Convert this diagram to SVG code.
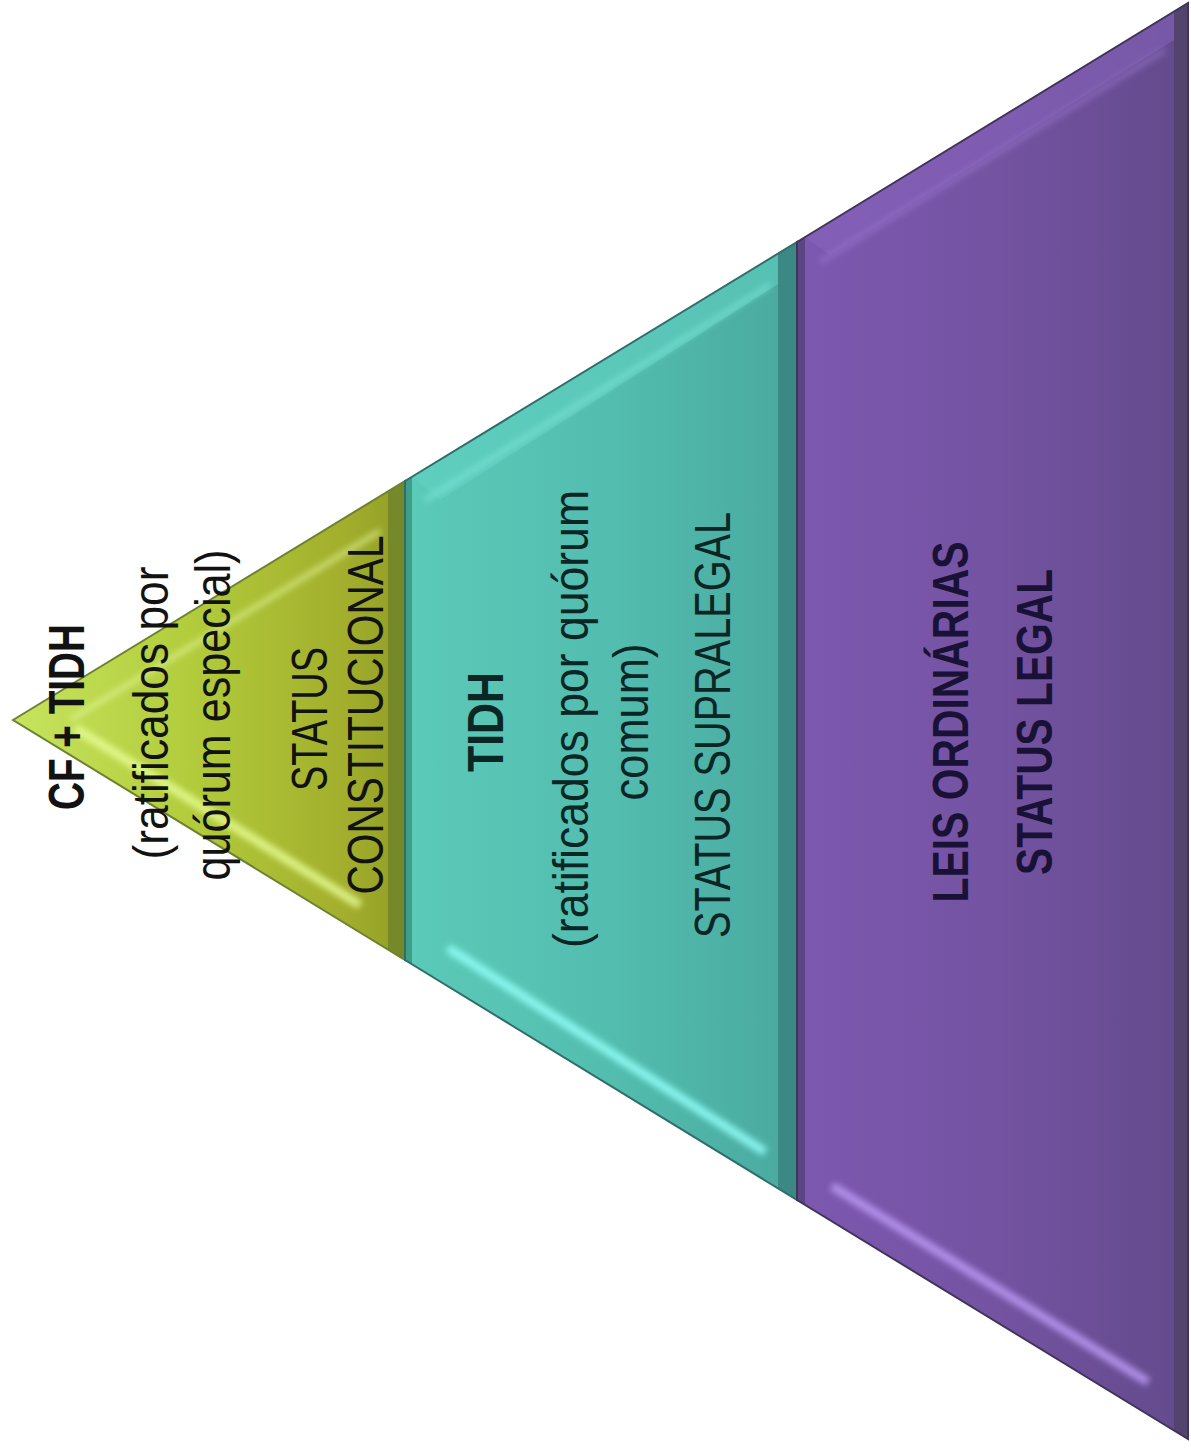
<svg xmlns="http://www.w3.org/2000/svg" width="1191" height="1449" viewBox="0 0 1191 1449">
<defs>
<style>
.t{font-family:"Liberation Sans",Arial,sans-serif;font-size:50px;text-anchor:middle}
.b{font-weight:bold}
.tg{fill:#121212}
.tt{fill:#0c2626}
.tp{fill:#1a1236}
</style>
<linearGradient id="gGreen" gradientUnits="userSpaceOnUse" x1="13" y1="0" x2="405" y2="0">
<stop offset="0" stop-color="#c6e45e"/>
<stop offset="0.45" stop-color="#b2cc3c"/>
<stop offset="0.85" stop-color="#a2ae2c"/>
<stop offset="1" stop-color="#909e26"/>
</linearGradient>
<linearGradient id="gTeal" gradientUnits="userSpaceOnUse" x1="405" y1="0" x2="797" y2="0">
<stop offset="0" stop-color="#5ccab8"/>
<stop offset="0.5" stop-color="#53beb0"/>
<stop offset="1" stop-color="#4aa9a0"/>
</linearGradient>
<linearGradient id="gPurple" gradientUnits="userSpaceOnUse" x1="797" y1="0" x2="1188" y2="0">
<stop offset="0" stop-color="#7d58b0"/>
<stop offset="0.5" stop-color="#7453a2"/>
<stop offset="1" stop-color="#634a8c"/>
</linearGradient>
<filter id="blur" x="-20%" y="-20%" width="140%" height="140%"><feGaussianBlur stdDeviation="3"/></filter>
<filter id="blur2" x="-20%" y="-20%" width="140%" height="140%"><feGaussianBlur stdDeviation="6"/></filter>
</defs>
<rect width="1191" height="1449" fill="#ffffff"/>

<g id="layer-green">
<polygon points="13,720 405,481 405,960" fill="url(#gGreen)"/>
<polygon points="388,491 405,481 405,960 388,950" fill="#75892a"/>
<line x1="70" y1="720" x2="380" y2="531" stroke="#e2f59a" stroke-width="5" opacity="0.7" filter="url(#blur)"/>
<line x1="75" y1="728" x2="360" y2="905" stroke="#eaff9a" stroke-width="9" opacity="0.8" filter="url(#blur)"/>
<polygon points="13,720 405,481 405,960" fill="none" stroke="#6f8030" stroke-width="2"/>
<text class="t b tg" transform="translate(84,717) rotate(-90)" textLength="186" lengthAdjust="spacingAndGlyphs">CF + TIDH</text>
<text class="t tg" transform="translate(168,713) rotate(-90)" textLength="293" lengthAdjust="spacingAndGlyphs">(ratificados por</text>
<text class="t tg" transform="translate(230,715) rotate(-90)" textLength="331" lengthAdjust="spacingAndGlyphs">quórum especial)</text>
<text class="t tg" transform="translate(327,719) rotate(-90)" textLength="144" lengthAdjust="spacingAndGlyphs">STATUS</text>
<text class="t tg" transform="translate(383,715) rotate(-90)" textLength="359" lengthAdjust="spacingAndGlyphs">CONSTITUCIONAL</text>
</g>

<g id="layer-teal">
<polygon points="405,481 797,242 797,1200 405,960" fill="url(#gTeal)"/>
<polygon points="405,481 412,477 412,964 405,960" fill="#3f9e88"/>
<polygon points="778,254 797,242 797,1200 778,1188" fill="#3c8884"/>
<polygon points="412,477 778,254 778,284 440,500" fill="#62d2c2" opacity="0.55"/>
<line x1="425" y1="500" x2="770" y2="285" stroke="#86ece0" stroke-width="5" opacity="0.6" filter="url(#blur)"/>
<line x1="448" y1="948" x2="765" y2="1152" stroke="#8ffcf4" stroke-width="9" opacity="0.9" filter="url(#blur)"/>
<polygon points="405,481 797,242 797,1200 405,960" fill="none" stroke="#2f6e6a" stroke-width="2"/>
<text class="t b tt" transform="translate(503,722) rotate(-90)" textLength="100" lengthAdjust="spacingAndGlyphs">TIDH</text>
<text class="t tt" transform="translate(588,719) rotate(-90)" textLength="458" lengthAdjust="spacingAndGlyphs">(ratificados por quórum</text>
<text class="t tt" transform="translate(648,722) rotate(-90)" textLength="157" lengthAdjust="spacingAndGlyphs">comum)</text>
<text class="t tt" transform="translate(730,725) rotate(-90)" textLength="426" lengthAdjust="spacingAndGlyphs">STATUS SUPRALEGAL</text>
</g>

<g id="layer-purple">
<polygon points="797,242 1188,3 1188,1439 797,1200" fill="url(#gPurple)"/>
<polygon points="797,242 805,237 805,1205 797,1200" fill="#5a4682"/>
<polygon points="1174,12 1188,3 1188,1439 1174,1430" fill="#52446c"/>
<polygon points="805,237 1174,12 1174,40 830,255" fill="#8a66c0" opacity="0.5"/>
<line x1="820" y1="262" x2="1165" y2="50" stroke="#9c7ad0" stroke-width="5" opacity="0.6" filter="url(#blur)"/>
<line x1="832" y1="1186" x2="1148" y2="1382" stroke="#b896f0" stroke-width="9" opacity="0.9" filter="url(#blur)"/>
<polygon points="797,242 1188,3 1188,1439 797,1200" fill="none" stroke="#40345a" stroke-width="2"/>
<text class="t b tp" transform="translate(968,722) rotate(-90)" textLength="361" lengthAdjust="spacingAndGlyphs">LEIS ORDINÁRIAS</text>
<text class="t b tp" transform="translate(1052,722) rotate(-90)" textLength="306" lengthAdjust="spacingAndGlyphs">STATUS LEGAL</text>
</g>
</svg>
